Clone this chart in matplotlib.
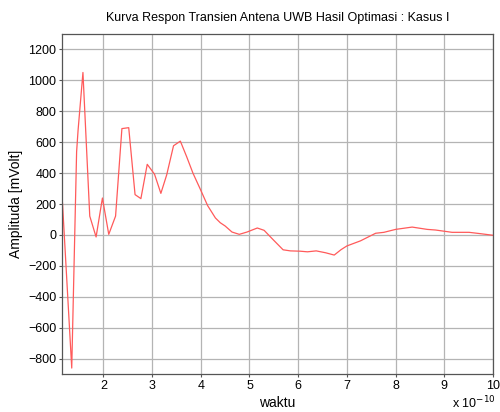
import matplotlib
matplotlib.use("Agg")
import matplotlib.pyplot as plt
import numpy as np

plt.rcParams['font.family'] = ['Liberation Sans', 'DejaVu Sans']

# waktu dalam satuan 1e-10 detik
waktu = [1.16, 1.35, 1.45, 1.48, 1.58, 1.72, 1.85, 1.98, 2.11, 2.25, 2.38, 2.52,
         2.65, 2.77, 2.90, 3.05, 3.18, 3.30, 3.44, 3.58, 3.71, 3.84, 3.99, 4.14,
         4.30, 4.40, 4.50, 4.64, 4.79, 4.95, 5.16, 5.30, 5.49, 5.69, 5.84, 6.04,
         6.19, 6.37, 6.56, 6.74, 6.88, 7.00, 7.28, 7.59, 7.76, 8.00, 8.34, 8.65,
         8.82, 9.16, 9.51, 9.75, 10.0]
amplitudo = [207, -861, 538, 677, 1051, 122, -13, 239, 4, 122, 688, 694,
             261, 235, 457, 393, 269, 389, 577, 607, 506, 399, 296, 190,
             110, 79, 58, 19, 4, 19, 45, 30, -32, -96, -103, -105,
             -109, -103, -115, -130, -95, -71, -38, 11, 17, 36, 51, 36,
             32, 17, 17, 8, -2]

fig = plt.figure(figsize=(5, 4.12), dpi=100)
ax = fig.add_axes([0.124, 0.092, 0.862, 0.8255])

ax.plot(waktu, amplitudo, color='#ff5a5a', linewidth=0.9)

ax.set_xlim(1.15, 10)
ax.set_ylim(-900, 1300)
ax.set_xticks(np.arange(2, 11, 1))
ax.set_yticks(np.arange(-800, 1201, 200))
ax.grid(True, color='#b4b4b4', linewidth=0.9)
ax.tick_params(direction='out', labelsize=9, length=2, pad=2, color='#555555')
for s in ax.spines.values():
    s.set_color('#555555')
    s.set_linewidth(0.9)

ax.set_title('Kurva Respon Transien Antena UWB Hasil Optimasi : Kasus I', fontsize=9, pad=9)
ax.set_xlabel('waktu', fontsize=10, labelpad=3)
ax.set_ylabel('Amplituda [mVolt]', fontsize=10, labelpad=4)
fig.text(0.905, 0.01, r'x 10$^{-10}$', fontsize=9)

plt.savefig('out.png', dpi=100)
